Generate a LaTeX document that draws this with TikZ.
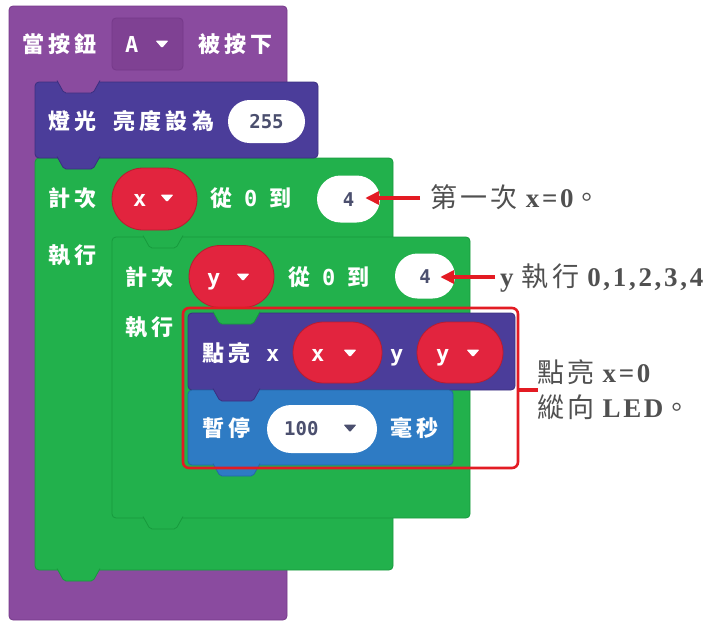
\documentclass[tikz,border=0pt]{standalone}
\usepackage{fontspec}
\usetikzlibrary{arrows.meta,shapes.misc}
\newfontfamily\blkcjk{Noto Sans CJK TC}[LetterSpace=20]
\newfontfamily\blkmono{DejaVu Sans Mono}
\newfontfamily\anncjk{Noto Sans CJK TC}[LetterSpace=12]
\newfontfamily\annlat{Liberation Serif}[LetterSpace=10]
\definecolor{hatP}{HTML}{8A4B9F}
\definecolor{hatPd}{HTML}{76398A}
\definecolor{ledP}{HTML}{4B3D9A}
\definecolor{ledPd}{HTML}{3B2F80}
\definecolor{loopG}{HTML}{22B14C}
\definecolor{loopGd}{HTML}{179A3D}
\definecolor{varR}{HTML}{E2243E}
\definecolor{varRd}{HTML}{B81C30}
\definecolor{basB}{HTML}{2E7BC4}
\definecolor{basBd}{HTML}{2566A8}
\definecolor{numT}{HTML}{4B4F6E}
\definecolor{hlR}{HTML}{E31B23}
\definecolor{annT}{HTML}{505050}
\newcommand\bc[1]{{\blkcjk\bfseries #1}}
\newcommand\bm[1]{{\blkmono\bfseries #1}}
\newcommand\ac[1]{{\anncjk #1}}
\newcommand\al[1]{{\annlat\bfseries\fontsize{27}{30}\selectfont #1}}
\newcommand\blktab[4]{\path[#1] (#2,#4-1.5) -- (#2+7,#4+11) -- (#3-7,#4+11) -- (#3,#4-1.5);}
\newcommand\ddtri[3]{\fill[#1,rounded corners=1pt] (#2-6.5,#3-3.5) -- (#2+6.5,#3-3.5) -- (#2,#3+4) -- cycle;}
\begin{document}
\begin{tikzpicture}[x=1pt,y=-1pt,
  hatblk/.style={fill=hatP,draw=hatPd,line width=0.8pt,rounded corners=4pt},
  ledblk/.style={fill=ledP,draw=ledPd,line width=0.8pt,rounded corners=4pt},
  loopblk/.style={fill=loopG,draw=loopGd,line width=0.8pt,rounded corners=4pt},
  basblk/.style={fill=basB,draw=basBd,line width=0.8pt,rounded corners=4pt},
  tabhat/.style={fill=hatP,draw=ledPd,line width=0.8pt,rounded corners=2pt},
  tabled/.style={fill=ledP,draw=ledPd,line width=0.8pt,rounded corners=2pt},
  tabloop/.style={fill=loopG,draw=loopGd,line width=0.8pt,rounded corners=2pt},
  tabbas/.style={fill=basB,draw=basBd,line width=0.8pt,rounded corners=2pt},
  pillR/.style={rounded rectangle,fill=varR,draw=varRd,line width=0.8pt,inner sep=0pt,minimum height=62pt,minimum width=85pt},
  pillW/.style={rounded rectangle,fill=white,inner sep=0pt},
  btxt/.style={text=white,inner sep=0pt,anchor=west,font=\fontsize{22}{25}\selectfont,text height=18pt,text depth=2pt},
  ntxt/.style={text=numT,inner sep=0pt,font=\fontsize{19}{22}\selectfont\blkmono\bfseries,text height=14pt,text depth=0pt},
  atxt/.style={text=annT,inner sep=0pt,anchor=west,font=\fontsize{27}{31}\selectfont,text height=22pt,text depth=3pt},
  redarrow/.style={draw=hlR,line width=3.5pt,-{Triangle[length=14pt,width=13pt]}},
  redline/.style={draw=hlR,line width=3.5pt},
  hlbox/.style={draw=hlR,line width=2.6pt,rounded corners=6pt,inner sep=0pt}]
\useasboundingbox (0,0) rectangle (717,621);
% hat block
\path[hatblk] (9,6) rectangle (287,620);
\node[fill=hatPd!55!hatP,draw=hatPd,line width=0.8pt,rounded corners=4pt,minimum width=71pt,minimum height=52pt,inner sep=0pt] (ddA) at (147.5,44) {};
\node[btxt] (t1) at (22,44) {\bc{當按鈕}};
\node[btxt] (tA) at (125,44) {\bm{A}};
\ddtri{white}{162}{44}
\node[btxt] (t2) at (198,44) {\bc{被按下}};
% outer loop
\path[loopblk] (35,158) rectangle (393,570);
\blktab{tabloop}{57}{100}{570}
% led brightness block
\path[ledblk] (35,82) rectangle (318,158);
\blktab{tabhat}{57}{100}{82}
\blktab{tabled}{57}{100}{158}
\node[btxt] (t3) at (48,121) {\bc{燈光}};
\node[btxt] (t4) at (113,121) {\bc{亮度設為}};
\node[pillW,minimum width=77pt,minimum height=43pt] (p255) at (266.5,121.5) {};
\node[ntxt] at (p255) {255};
% outer loop texts
\node[btxt] (t5) at (48,198) {\bc{計次}};
\node[pillR] (vx1) at (154.5,199) {};
\node[btxt] at (133,198) {\bm{x}};
\ddtri{white}{167}{198}
\node[btxt] (t6) at (210,198) {\bc{從}\hspace{12pt}\bm{0}\hspace{12pt}\bc{到}};
\node[pillW,minimum width=63pt,minimum height=47pt] (four1) at (348.5,199) {};
\node[ntxt] at (four1) {4};
\node[btxt] (t7) at (48,255) {\bc{執行}};
% inner loop
\path[loopblk] (112,237) rectangle (470,518);
\blktab{tabloop}{143}{183}{237}
\blktab{tabloop}{143}{183}{518}
\node[btxt] (t8) at (125,277) {\bc{計次}};
\node[pillR] (vy1) at (231.5,276.5) {};
\node[btxt] at (207,277) {\bm{y}};
\ddtri{white}{243}{277}
\node[btxt] (t9) at (288,277) {\bc{從}\hspace{12pt}\bm{0}\hspace{12pt}\bc{到}};
\node[pillW,minimum width=60pt,minimum height=45pt] (four2) at (425,276) {};
\node[ntxt] at (four2) {4};
\node[btxt] (t10) at (125,327) {\bc{執行}};
% plot block
\path[ledblk] (188,313) rectangle (515,390);
\blktab{tabloop}{213}{260}{313}
% pause block
\path[basblk] (188,390) rectangle (453,465);
\blktab{tabled}{213}{260}{390}
\blktab{tabbas}{213}{260}{465}
\node[btxt] (t11) at (202,353) {\bc{點亮}};
\node[btxt] (t12) at (266,353) {\bm{x}};
\node[pillR,minimum width=89pt,minimum height=61pt] (vx2) at (337.5,352.5) {};
\node[btxt] at (311,353) {\bm{x}};
\ddtri{white}{350}{353}
\node[btxt] (t13) at (390,353) {\bm{y}};
\node[pillR,minimum width=86pt,minimum height=61pt] (vy2) at (460,352.5) {};
\node[btxt] at (436,353) {\bm{y}};
\ddtri{white}{473}{353}
\node[btxt] (t14) at (202,428) {\bc{暫停}};
\node[pillW,minimum width=110pt,minimum height=48pt] (p100) at (322,429) {};
\node[ntxt,anchor=west] at (284,428) {100};
\ddtri{numT}{350}{428}
\node[btxt] (t15) at (390,428) {\bc{毫秒}};
% highlight and annotations
\node[hlbox,minimum width=335pt,minimum height=160pt] (hl) at (350.5,388) {};
\node[atxt] (a1) at (430,198) {\ac{第一次} \al{x=0}\ac{。}};
\node[atxt] (a2) at (500,277) {\al{y} \ac{執行} \al{0,1,2,3,4}};
\node[atxt] (a3) at (537,373) {\ac{點亮} \al{x=0}};
\node[atxt] (a4) at (537,408) {\ac{縱向} \al{LED}\ac{。}};
\draw[redarrow] ([xshift=-10pt]a1.west) -- ([xshift=-15pt]four1.east |- a1.west);
\draw[redarrow] ([xshift=-5pt]a2.west) -- ([xshift=-15pt]four2.east |- a2.west);
\coordinate (a3c) at (538,390);
\draw[redline] ([yshift=-2pt]hl.east) -- (a3c);
\end{tikzpicture}
\end{document}
